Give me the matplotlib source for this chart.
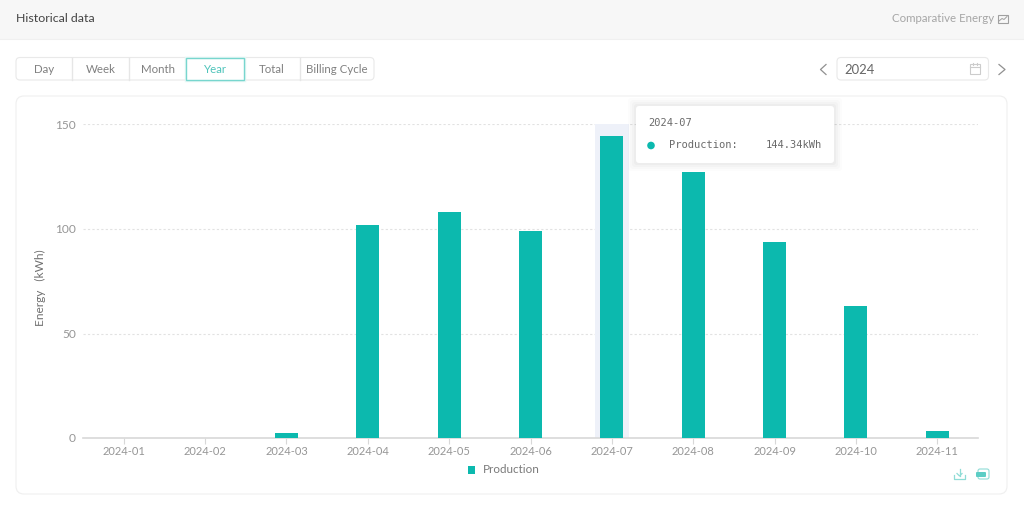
import matplotlib
matplotlib.use("Agg")
from matplotlib import pyplot as plt
from matplotlib.patches import FancyBboxPatch, Rectangle, Circle

plt.rcParams['font.family'] = ['Lato', 'DejaVu Sans']

months = ['2024-01', '2024-02', '2024-03', '2024-04', '2024-05', '2024-06',
          '2024-07', '2024-08', '2024-09', '2024-10', '2024-11']
production = [0, 0, 2.6, 101.9, 108.1, 99.0, 144.34, 127.3, 93.8, 63.2, 3.3]
y_ticks = [0, 50, 100, 150]
buttons = ['Day', 'Week', 'Month', 'Year', 'Total', 'Billing Cycle']
button_edges = [16, 72, 129, 186, 244, 300, 374]

TEAL = '#0cb9ae'
GREY = '#969696'
W, H = 1024, 507

fig = plt.figure(figsize=(W / 100, H / 100), dpi=100, facecolor='white')

# page furniture, drawn in pixel coordinates
ui = fig.add_axes([0, 0, 1, 1], zorder=0)
ui.set_xlim(0, W)
ui.set_ylim(H, 0)
ui.axis('off')


def round_box(ax, x0, y0, x1, y1, r=4, fc='white', ec='#efefef', lw=0.8, z=1):
    box = FancyBboxPatch((x0 + r, y0 + r), x1 - x0 - 2 * r, y1 - y0 - 2 * r,
                         boxstyle='round,pad=%d,rounding_size=%d' % (r, r),
                         fc=fc, ec=ec, lw=lw, zorder=z)
    ax.add_patch(box)


ui.add_patch(Rectangle((0, 0), W, 38.5, fc='#f7f7f7', ec='none'))
ui.plot([0, W], [38.5, 38.5], color='#f0f0f0', lw=0.8)
ui.text(15.5, 18, 'Historical data', fontsize=8.9, color='#444444', va='center')
ui.text(994, 19, 'Comparative Energy', fontsize=8.3, color='#a6a6a6', va='center', ha='right')

# little chart icon next to Comparative Energy
ui.add_patch(Rectangle((997.5, 14.5), 10.5, 8, fc='none', ec='#a0a0a0', lw=0.8))
ui.plot([999, 1002, 1004, 1007], [21, 18.5, 19.5, 16.5], color='#a0a0a0', lw=0.7)

# period buttons
round_box(ui, button_edges[0], 57.5, button_edges[-1], 80, r=4, ec='#e9e9e9')
for i, label in enumerate(buttons):
    x0, x1 = button_edges[i], button_edges[i + 1]
    if i > 0:
        ui.plot([x0, x0], [58, 80], color='#e6e6e6', lw=1.0, zorder=2)
    col = '#4fc4bb' if label == 'Year' else '#808080'
    ui.text((x0 + x1) / 2, 69.5, label, fontsize=8.3, color=col, ha='center', va='center', zorder=4)
ui.add_patch(Rectangle((186, 57.5), 57.5, 22.5, fc='white', ec='#e6f7f5', lw=2.5, zorder=2))
ui.add_patch(Rectangle((186, 57.5), 57.5, 22.5, fc='white', ec='#78d6ce', lw=1.0, zorder=3))

# year picker
round_box(ui, 837, 57.5, 988.5, 80, r=4, ec='#e9e9e9')
ui.text(844, 69.5, '2024', fontsize=9.4, color='#666666', va='center', zorder=3)
ui.plot([826, 820.5, 826], [64.5, 69.5, 74.5], color='#909090', lw=0.9)
ui.plot([999, 1005, 999], [64.5, 69.5, 74.5], color='#909090', lw=0.9)
ui.add_patch(Rectangle((969.5, 64), 10.5, 10, fc='none', ec='#cccccc', lw=0.8, zorder=3))
ui.plot([969.5, 980], [67, 67], color='#cccccc', lw=0.8, zorder=3)
ui.plot([972.5, 972.5], [62.5, 65], color='#cccccc', lw=0.8, zorder=3)
ui.plot([977, 977], [62.5, 65], color='#cccccc', lw=0.8, zorder=3)

# chart card
round_box(ui, 16, 96, 1007, 494, r=8, ec='#efefef')

# the chart
x0, x1, y_top, y_bot = 83, 978, 124.5, 438
ax = fig.add_axes([x0 / W, 1 - y_bot / H, (x1 - x0) / W, (y_bot - y_top) / H], zorder=1)
ax.patch.set_alpha(0)
pos = list(range(len(months)))
ax.bar([pos[6]], [y_ticks[-1]], width=0.42, color='#eef1f9', zorder=1)
ax.bar(pos, production, width=0.283, color=TEAL, zorder=3, label='Production')
ax.set_xlim(-0.5, len(months) - 0.5)
ax.set_ylim(0, y_ticks[-1])
ax.set_xticks(pos)
ax.set_xticklabels(months)
ax.set_yticks(y_ticks)
ax.yaxis.grid(True, color='#e2e2e2', linestyle=(0, (2, 2)), lw=0.8, zorder=0)
ax.set_axisbelow(True)
for side in ['top', 'right', 'left']:
    ax.spines[side].set_visible(False)
ax.spines['bottom'].set_color('#d8d8d8')
ax.spines['bottom'].set_linewidth(1.2)
ax.tick_params(axis='x', length=4, color='#d8d8d8', labelcolor=GREY, labelsize=8.0, pad=2)
ax.tick_params(axis='y', length=0, labelcolor=GREY, labelsize=8.6, pad=5)
ax.set_ylabel('Energy   (kWh)', fontsize=8.6, color='#707070', labelpad=0)
ax.yaxis.set_label_coords((46.5 - x0) / (x1 - x0), 0.478)

# legend and toolbox, above the chart
top = fig.add_axes([0, 0, 1, 1], zorder=2)
top.set_xlim(0, W)
top.set_ylim(H, 0)
top.axis('off')
top.add_patch(Rectangle((467.5, 466), 7.5, 7.5, fc=TEAL, ec='none'))
top.text(483, 469.5, 'Production', fontsize=8.4, color='#7a7a7a', va='center')

# download icon
top.plot([959.5, 959.5], [469, 476], color='#8fdcd6', lw=0.9)
top.plot([957, 959.5, 962], [473.5, 476, 473.5], color='#8fdcd6', lw=0.9)
top.plot([954, 954, 965, 965], [475, 479, 479, 475], color='#8fdcd6', lw=0.9)
# csv icon
round_box(top, 978, 469, 989, 479, r=2, fc='none', ec='#8fdcd6', lw=0.8)
round_box(top, 976, 472, 986, 477, r=1, fc='#5ccdc5', ec='none', z=2)

# tooltip
for grow, alpha in [(8, 0.012), (6, 0.015), (4, 0.02), (2, 0.025)]:
    top.add_patch(FancyBboxPatch((636 - grow + 3, 106 - grow + 3), 198 + 2 * grow - 6, 57 + 2 * grow - 6,
                                 boxstyle='round,pad=3,rounding_size=3', fc='black', ec='none', alpha=alpha))
round_box(top, 636, 106, 834, 163, r=3, ec='none', z=5)
mono = ['DejaVu Sans Mono']
top.text(648, 123, months[6], fontsize=7.5, color='#6a6a6a', family=mono, va='center', zorder=6)
top.add_patch(Circle((651, 145.5), 3.8, fc=TEAL, ec='none', zorder=6))
top.text(669, 145.5, 'Production:', fontsize=7.5, color='#6a6a6a', family=mono, va='center', zorder=6)
top.text(822, 145.5, '%.2fkWh' % production[6], fontsize=7.5, color='#6a6a6a', family=mono,
         va='center', ha='right', zorder=6)

fig.savefig('out.png', dpi=100, facecolor='white')
